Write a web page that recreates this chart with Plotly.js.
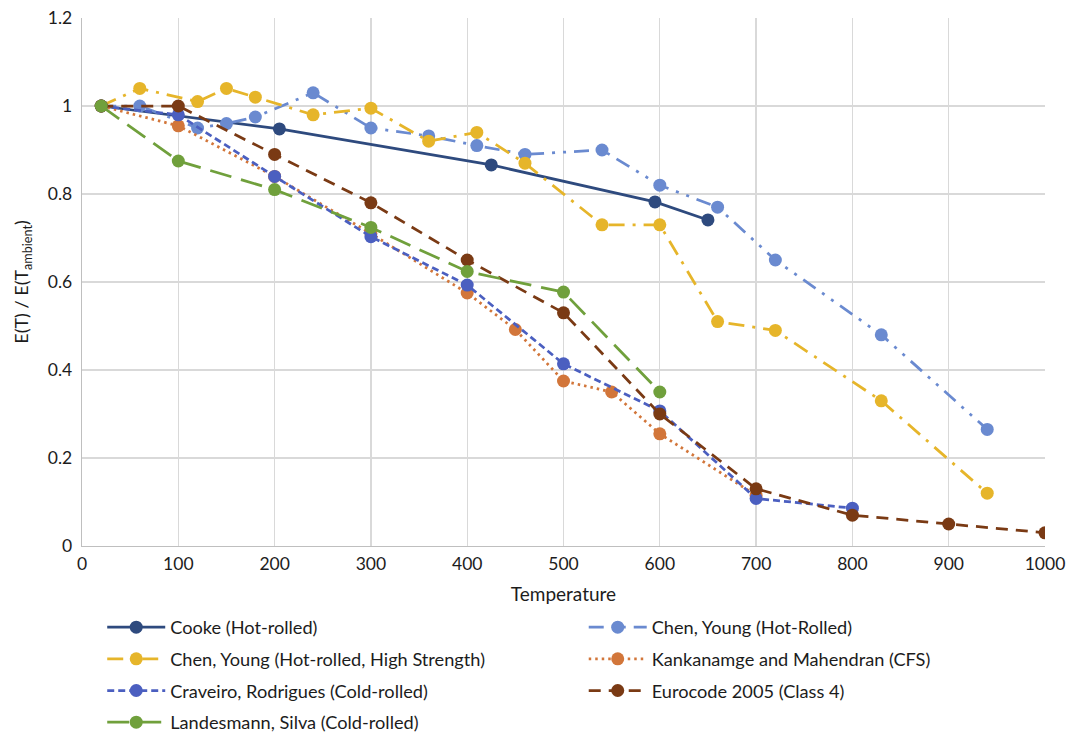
<!DOCTYPE html>
<html>
<head>
<meta charset="utf-8">
<script src="https://cdn.plot.ly/plotly-3.0.1.min.js"></script>
<style>html,body{margin:0;padding:0;background:#fff;}#chart{width:1069px;height:738px;}</style>
</head>
<body>
<div id="chart"></div>
<script>
// ---- data ----
const cookeT = [20, 205, 425, 595, 650];
const cookeE = [1.0, 0.948, 0.866, 0.782, 0.741];

const chenHrT = [20, 60, 120, 150, 180, 240, 300, 360, 410, 460, 540, 600, 660, 720, 830, 940];
const chenHrE = [1.0, 1.0, 0.95, 0.96, 0.975, 1.03, 0.95, 0.932, 0.91, 0.89, 0.9, 0.82, 0.77, 0.65, 0.48, 0.265];

const chenHsT = [20, 60, 120, 150, 180, 240, 300, 360, 410, 460, 540, 600, 660, 720, 830, 940];
const chenHsE = [1.0, 1.04, 1.01, 1.04, 1.02, 0.98, 0.995, 0.92, 0.94, 0.87, 0.73, 0.73, 0.51, 0.49, 0.33, 0.12];

const kankT = [20, 100, 200, 300, 400, 450, 500, 550, 600, 700];
const kankE = [1.0, 0.955, 0.84, 0.71, 0.575, 0.492, 0.375, 0.35, 0.255, 0.115];

const cravT = [20, 100, 200, 300, 400, 500, 600, 700, 800];
const cravE = [1.0, 0.98, 0.84, 0.703, 0.593, 0.414, 0.307, 0.108, 0.086];

const euroT = [20, 100, 200, 300, 400, 500, 600, 700, 800, 900, 1000];
const euroE = [1.0, 1.0, 0.89, 0.78, 0.65, 0.53, 0.30, 0.13, 0.07, 0.05, 0.03];

const landT = [20, 100, 200, 300, 400, 500, 600];
const landE = [1.0, 0.875, 0.81, 0.724, 0.624, 0.577, 0.35];

const xTicks = [0, 100, 200, 300, 400, 500, 600, 700, 800, 900, 1000];
const yTicks = [0, 0.2, 0.4, 0.6, 0.8, 1, 1.2];
const yTickText = ['0', '0.2', '0.4', '0.6', '0.8', '1', '1.2'];

const FONT = 'Lato, "Open Sans", sans-serif';
const TXT = '#1c1c1c';

function tr(name, x, y, color, dash, legend) {
  return {
    type: 'scatter', mode: 'lines+markers', name: name, x: x, y: y,
    line: {color: color, width: 2.75, dash: dash},
    marker: {color: color, size: 13},
    legend: legend, legendgroup: name
  };
}

const data = [
  tr('Cooke (Hot-rolled)', cookeT, cookeE, '#2E4A7E', 'solid', 'legend'),
  tr('Chen, Young (Hot-Rolled)', chenHrT, chenHrE, '#6A8AD0', '15px,8px,3px,8px,3px,8px', 'legend2'),
  tr('Chen, Young (Hot-rolled, High Strength)', chenHsT, chenHsE, '#E6B52A', '16px,8px,3px,8px', 'legend'),
  tr('Kankanamge and Mahendran (CFS)', kankT, kankE, '#D2763A', '2.5px,4px', 'legend2'),
  tr('Craveiro, Rodrigues (Cold-rolled)', cravT, cravE, '#4B5FC0', '7px,4px', 'legend'),
  tr('Eurocode 2005 (Class 4)', euroT, euroE, '#7A3A14', '12px,8px', 'legend2'),
  tr('Landesmann, Silva (Cold-rolled)', landT, landE, '#70A03C', '22px,10px', 'legend')
];

const legendBase = {
  orientation: 'v', yanchor: 'top', xanchor: 'left', yref: 'container', y: 0.175,
  font: {family: FONT, size: 18.2, color: TXT},
  itemwidth: 58, traceorder: 'grouped', tracegroupgap: 5,
  bgcolor: 'rgba(0,0,0,0)', itemclick: false
};

const layout = {
  width: 1069, height: 738,
  margin: {l: 82, r: 24, t: 18, b: 192},
  paper_bgcolor: '#ffffff', plot_bgcolor: '#ffffff',
  font: {family: FONT, size: 17.5, color: TXT},
  showlegend: true,
  xaxis: {
    range: [0, 1000], tickvals: xTicks, ticktext: xTicks.map(String),
    showgrid: true, gridcolor: '#d9d9d9', gridwidth: 1.3,
    showline: true, linecolor: '#bfbfbf', linewidth: 1.3,
    zeroline: false, ticks: '', ticklabelstandoff: 2,
    tickfont: {family: FONT, size: 17.5, color: TXT},
    title: {text: 'Temperature', font: {family: FONT, size: 19, color: TXT}, standoff: 14}
  },
  yaxis: {
    range: [0, 1.2], tickvals: yTicks, ticktext: yTickText,
    showgrid: true, gridcolor: '#d9d9d9', gridwidth: 1.3,
    showline: true, linecolor: '#bfbfbf', linewidth: 1.3,
    zeroline: false, ticks: '', ticklabelstandoff: 5,
    tickfont: {family: FONT, size: 17.5, color: TXT},
    title: {text: 'E(T) / E(T<sub>ambient</sub>)', font: {family: FONT, size: 18, color: TXT}, standoff: 14}
  },
  legend: Object.assign({}, legendBase, {x: 0.021}),
  legend2: Object.assign({}, legendBase, {x: 0.521})
};

Plotly.newPlot('chart', data, layout, {displayModeBar: false, staticPlot: true});
</script>
</body>
</html>
